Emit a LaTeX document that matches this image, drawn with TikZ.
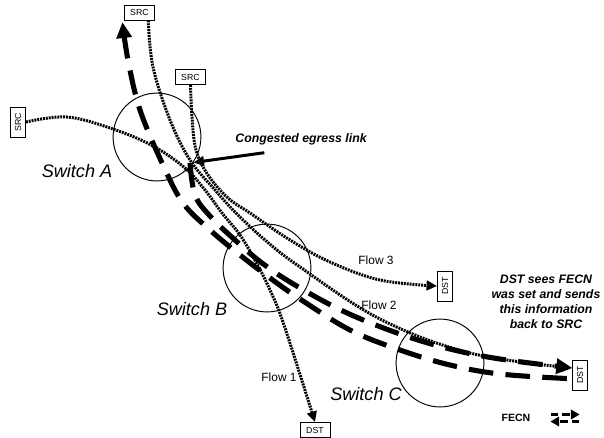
\documentclass[tikz,border=0pt]{standalone}
\usepackage{fontspec}
\setmainfont{Liberation Sans}
\usetikzlibrary{arrows.meta,calc,positioning}
\definecolor{cnInk}{HTML}{000000}
\tikzset{
  cn canvas/.style={fill=white},
  cn switch/.style={circle, draw=cnInk, line width=.55pt, minimum size=50pt, inner sep=0},
  cn port/.style={
    draw=cnInk, line width=.5pt, fill=white,
    minimum width=17pt, minimum height=8.5pt, inner sep=0,
    font=\fontsize{5}{6}\selectfont
  },
  cn flow/.style={
    draw=cnInk,
    line width=1.7pt,
    dash pattern=on 1.1pt off .55pt,
    -{Triangle[length=6pt,width=5.5pt]}
  },
  cn notice/.style={
    draw=cnInk,
    line width=2.9pt,
    dash pattern=on 14pt off 7pt,
    -{Triangle[length=9pt,width=8.5pt]}
  },
  cn pointer/.style={
    draw=cnInk,
    line width=1.7pt,
    -{Triangle[length=6pt,width=5.5pt]}
  },
  cn key/.style={
    draw=cnInk,
    line width=1.9pt,
    dash pattern=on 4.2pt off 2.4pt,
    -{Triangle[length=5pt,width=5.4pt]}
  },
  cn name/.style={font=\fontsize{10.3}{12}\selectfont\itshape, text=cnInk},
  cn note/.style={font=\fontsize{7}{8.5}\selectfont\bfseries\itshape, text=cnInk, align=center},
  cn flow label/.style={font=\fontsize{6.8}{8}\selectfont, text=cnInk},
  cn tag/.style={font=\fontsize{6}{7}\selectfont\bfseries, text=cnInk}
}

\begin{document}
\begin{tikzpicture}[x=.02cm,y=-.02cm]
  \path[cn canvas] (0,0) rectangle (604,437);
  \useasboundingbox (0,0) rectangle (604,437);

  \node[cn switch] (swA) at (157,137) {};
  \node[cn switch] (swB) at (267,268) {};
  \node[cn switch] (swC) at (440,363) {};
  \node[cn name] (nameA) at (77,171) {Switch A};
  \node[cn name] (nameB) at (192,309) {Switch B};
  \node[cn name] (nameC) at (366,394) {Switch C};

  \node[cn port] (srcTop) at (139.5,12.5) {SRC};
  \node[cn port] (srcMid) at (190.5,77) {SRC};
  \node[cn port, rotate=90] (srcLeft) at (18,122) {SRC};
  \node[cn port, rotate=90] (dstMid) at (445,286) {DST};
  \node[cn port, rotate=90] (dstRight) at (580,375) {DST};
  \node[cn port] (dstLow) at (315,430) {DST};

  \coordinate (link) at (190,163);

  \draw[cn flow] plot[smooth, tension=.6] coordinates {(srcLeft.south) (67,117)
    (113,129) (153,146) (185,168) (205,190) (222,213) (240,235) (256,262)
    (270,290) (284,325) (dstLow.north)};
  \draw[cn flow] plot[smooth, tension=.6] coordinates {([xshift=5pt]srcTop.south)
    (153,67) (170,120) (190,160) (215,190) (236,213) (265,240) (300,267)
    (380,319) (470,353) ([yshift=4pt]dstRight.north)};
  \draw[cn flow] plot[smooth, tension=.6] coordinates {(srcMid.south) (192,117)
    (196,150) (208,175) (228,198) (250,213) (290,240) (330,262) (380,280)
    (dstMid.north)};

  \draw[cn notice] plot[smooth, tension=.6] coordinates {(link) (195,195)
    (210,216) (235,240) (262,263) (295,285) (345,312) (400,334) (450,349)
    (500,359) ([yshift=4pt]dstRight.north)};
  \draw[cn notice] plot[smooth, tension=.6] coordinates {([xshift=-3pt,yshift=-2pt]dstRight.north)
    (500,374) (450,365) (400,350) (350,330) (300,299) (270,278) (240,255)
    (210,230) (183,203) (163,165) (140,110) (128,60)
    ([xshift=-1pt,yshift=-1pt]srcTop.south west)};

  \node[cn note] (cong) at (301,139) {Congested egress link};
  \draw[cn pointer, shorten >=2pt] ([xshift=20pt,yshift=-1pt]cong.south west) -- (link);

  \node[cn flow label] (flow3) at (376,260) {Flow 3};
  \node[cn flow label] (flow2) at (379,305) {Flow 2};
  \node[cn flow label] (flow1) at (279,377) {Flow 1};

  \node[cn note] (back) at (546,302) {DST sees FECN\\was set and sends\\this information\\back to SRC};

  \node[cn tag] (fecn) at (516,418) {FECN};
  \draw[cn key] ([xshift=8pt,yshift=2pt]fecn.east) -- ++(29,0);
  \draw[cn key] ([xshift=24.4pt,yshift=-2pt]fecn.east) -- ++(-29,0);
\end{tikzpicture}
\end{document}
